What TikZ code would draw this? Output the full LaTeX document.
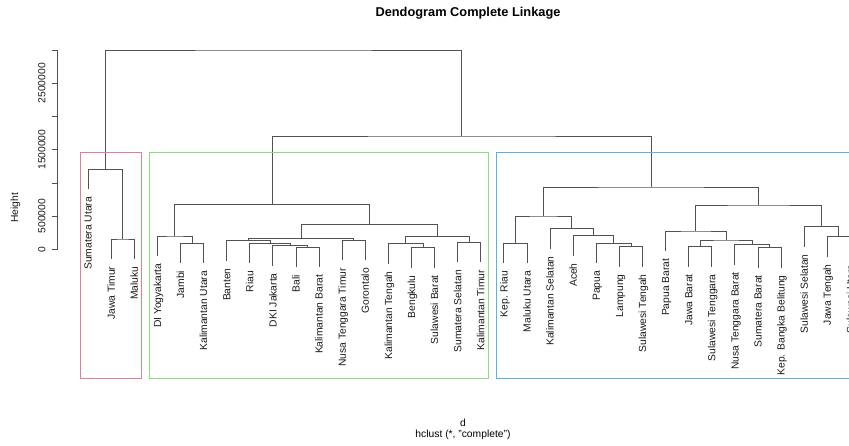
\documentclass[tikz,border=0pt]{standalone}
\usepackage{fontspec}
\setmainfont{Liberation Sans}
\usetikzlibrary{calc}
\definecolor{rred}{HTML}{DF536B}
\definecolor{rgreen}{HTML}{61D04F}
\definecolor{rblue}{HTML}{2297E6}
\newcommand\dleaf[4]{%
  \coordinate (#1) at ({88+23.1*(#2-1)},{#3+19.9});
  \node[lab] (#1t) at ($(#1)+(0,7.5)$) {#4};}
\newcommand\dmerge[4]{%
  \coordinate (#1tmp) at ($(#2)!0.5!(#3)$);
  \coordinate (#1) at (#1tmp |- 0,#4);
  \draw[tree] (#2) |- (#1) -| (#3);}
\begin{document}
\begin{tikzpicture}[x=1pt,y=-1pt,
  tree/.style={draw=black!68,line width=0.7pt},
  lab/.style={rotate=90,anchor=east,inner sep=0pt,text=black!90,font=\fontsize{10.3}{12}\selectfont,text height=7.4pt,text depth=0pt},
  ticklab/.style={rotate=90,inner sep=0pt,text=black!90,font=\fontsize{10.3}{12}\selectfont,text height=7.4pt,text depth=0pt},
  box/.style={line width=0.7pt}]
\useasboundingbox (0,0) rectangle (849,445);
\clip (0,0) rectangle (849,445);

% title and axis texts
\node[font=\fontsize{12.8}{15}\selectfont\bfseries] (title) at (468,13) {Dendogram Complete Linkage};
\node[ticklab] (ylab) at (14.5,208) {Height};
\node[font=\fontsize{10.3}{12}\selectfont,inner sep=0pt] (xlab) at (463,423) {d};
\node[font=\fontsize{10.3}{12}\selectfont,inner sep=0pt] (sub) at (463,435) {hclust (*, "complete")};

% y axis
\draw[tree] (57.7,50) -- (57.7,249.3);
\foreach \k in {0,...,6} \draw[tree] (57.7,{249.3-33.22*\k}) -- ++(-6,0);
\node[ticklab] (t0) at (41.7,249.3) {0};
\node[ticklab] (t1) at (41.7,{249.3-33.22}) {500000};
\node[ticklab] (t3) at (41.7,{249.3-3*33.22}) {1500000};
\node[ticklab] (t5) at (41.7,{249.3-5*33.22}) {2500000};

% leaves
\dleaf{l1}{1}{169.3}{Sumatera Utara}
\dleaf{l2}{2}{239}{Jawa Timur}
\dleaf{l3}{3}{239}{Maluku}
\dleaf{l4}{4}{236}{DI Yogyakarta}
\dleaf{l5}{5}{243.3}{Jambi}
\dleaf{l6}{6}{243.3}{Kalimantan Utara}
\dleaf{l7}{7}{240.7}{Banten}
\dleaf{l8}{8}{243.3}{Riau}
\dleaf{l9}{9}{245.7}{DKI Jakarta}
\dleaf{l10}{10}{247.3}{Bali}
\dleaf{l11}{11}{247.3}{Kalimantan Barat}
\dleaf{l12}{12}{240.5}{Nusa Tenggara Timur}
\dleaf{l13}{13}{240.5}{Gorontalo}
\dleaf{l14}{14}{243.8}{Kalimantan Tengah}
\dleaf{l15}{15}{247.7}{Bengkulu}
\dleaf{l16}{16}{247.7}{Sulawesi Barat}
\dleaf{l17}{17}{242.5}{Sumatera Selatan}
\dleaf{l18}{18}{242.5}{Kalimantan Timur}
\dleaf{l19}{19}{243.3}{Kep. Riau}
\dleaf{l20}{20}{243.3}{Maluku Utara}
\dleaf{l21}{21}{228.7}{Kalimantan Selatan}
\dleaf{l22}{22}{235.7}{Aceh}
\dleaf{l23}{23}{243.3}{Papua}
\dleaf{l24}{24}{246.7}{Lampung}
\dleaf{l25}{25}{246.7}{Sulawesi Tengah}
\dleaf{l26}{26}{231}{Papua Barat}
\dleaf{l27}{27}{246.7}{Jawa Barat}
\dleaf{l28}{28}{246.7}{Sulawesi Tenggara}
\dleaf{l29}{29}{244.7}{Nusa Tenggara Barat}
\dleaf{l30}{30}{247.7}{Sumatera Barat}
\dleaf{l31}{31}{247.7}{Kep. Bangka Belitung}
\dleaf{l32}{32}{226.7}{Sulawesi Selatan}
\dleaf{l33}{33}{236.7}{Jawa Tengah}
\dleaf{l34}{34}{236.7}{Sulawesi Utara}

% merges
\dmerge{mJM}{l2}{l3}{239}
\dmerge{mS}{l1}{mJM}{169.3}
\dmerge{mJK}{l5}{l6}{243.3}
\dmerge{mD}{l4}{mJK}{236}
\dmerge{mBK}{l10}{l11}{247.3}
\dmerge{mDK}{l9}{mBK}{245.7}
\dmerge{mR}{l8}{mDK}{243.3}
\dmerge{mBa}{l7}{mR}{240.7}
\dmerge{mNG}{l12}{l13}{240.5}
\dmerge{mA}{mBa}{mNG}{238.3}
\dmerge{mBS}{l15}{l16}{247.7}
\dmerge{mKT}{l14}{mBS}{243.8}
\dmerge{mST}{l17}{l18}{242.5}
\dmerge{mC}{mKT}{mST}{236.3}
\dmerge{mAC}{mA}{mC}{224.3}
\dmerge{mG}{mD}{mAC}{204.3}
\dmerge{mKM}{l19}{l20}{243.3}
\dmerge{mLS}{l24}{l25}{246.7}
\dmerge{mP}{l23}{mLS}{243.3}
\dmerge{mAc}{l22}{mP}{235.7}
\dmerge{mKS}{l21}{mAc}{228.7}
\dmerge{mL}{mKM}{mKS}{216}
\dmerge{mJS}{l27}{l28}{246.7}
\dmerge{mSK}{l30}{l31}{247.7}
\dmerge{mN}{l29}{mSK}{244.7}
\dmerge{mJN}{mJS}{mN}{240}
\dmerge{mPB}{l26}{mJN}{231}
\dmerge{mJU}{l33}{l34}{236.7}
\dmerge{mSS}{l32}{mJU}{226.7}
\dmerge{mRR}{mPB}{mSS}{205}
\dmerge{mB}{mL}{mRR}{187}
\dmerge{mGB}{mG}{mB}{136}
\dmerge{root}{mS}{mGB}{50}

% cluster rectangles
\draw[box,rred!75] (80.1,152.7) rectangle (141.8,378);
\draw[box,rgreen!75] (149.4,152.7) rectangle (488.3,378);
\draw[box,rblue!75] (496,152.7) rectangle (857.9,378);
\end{tikzpicture}
\end{document}
